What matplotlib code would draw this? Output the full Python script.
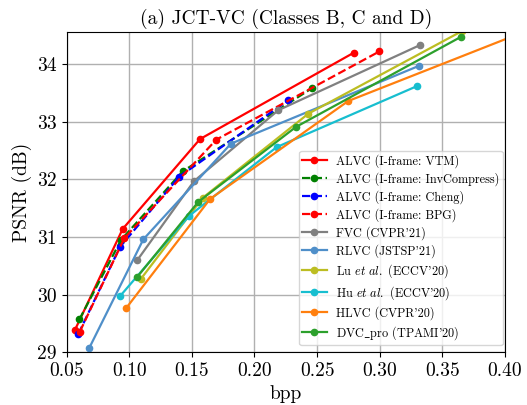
import matplotlib
matplotlib.use("Agg")
import matplotlib.pyplot as plt

plt.rcParams['font.family'] = ['cmr10', 'DejaVu Serif']
plt.rcParams['mathtext.fontset'] = 'cm'
plt.rcParams['axes.formatter.use_mathtext'] = True

labels = [
    "ALVC (I-frame: VTM)",
    "ALVC (I-frame: InvCompress)",
    "ALVC (I-frame: Cheng)",
    "ALVC (I-frame: BPG)",
    "FVC (CVPR'21)",
    "RLVC (JSTSP'21)",
    r"Lu $\mathit{et\ al.}$ (ECCV'20)",
    r"Hu $\mathit{et\ al.}$ (ECCV'20)",
    "HLVC (CVPR'20)",
    r"DVC$\_$pro (TPAMI'20)",
]

vtm_bpp = [0.0566, 0.0947, 0.1565, 0.2795]
vtm_psnr = [29.39, 31.14, 32.70, 34.20]
inv_bpp = [0.0601, 0.0934, 0.1427, 0.2457]
inv_psnr = [29.57, 30.95, 32.14, 33.58]
cheng_bpp = [0.0593, 0.0926, 0.1400, 0.2268]
cheng_psnr = [29.32, 30.83, 32.05, 33.37]
bpg_bpp = [0.0605, 0.0960, 0.1695, 0.2998]
bpg_psnr = [29.36, 30.98, 32.69, 34.22]
fvc_bpp = [0.1064, 0.1517, 0.2190, 0.3322]
fvc_psnr = [30.60, 31.97, 33.20, 34.33]
rlvc_bpp = [0.0681, 0.1112, 0.1812, 0.3314]
rlvc_psnr = [29.08, 30.96, 32.62, 33.97]
lu_bpp = [0.1091, 0.1586, 0.2430, 0.3655]
lu_psnr = [30.27, 31.68, 33.14, 34.57]
hu_bpp = [0.0928, 0.1479, 0.2177, 0.3300]
hu_psnr = [29.98, 31.37, 32.56, 33.62]
hlvc_bpp = [0.0976, 0.1645, 0.2749, 0.4200]
hlvc_psnr = [29.77, 31.66, 33.36, 34.60]
dvcp_bpp = [0.1064, 0.1551, 0.2331, 0.3647]
dvcp_psnr = [30.31, 31.61, 32.91, 34.47]

series = [
    (vtm_bpp, vtm_psnr, 'red', '-'),
    (inv_bpp, inv_psnr, 'green', '--'),
    (cheng_bpp, cheng_psnr, 'blue', '--'),
    (bpg_bpp, bpg_psnr, 'red', '--'),
    (fvc_bpp, fvc_psnr, 'grey', '-'),
    (rlvc_bpp, rlvc_psnr, '#4f8fc9', '-'),
    (lu_bpp, lu_psnr, '#bcbd22', '-'),
    (hu_bpp, hu_psnr, '#17becf', '-'),
    (hlvc_bpp, hlvc_psnr, '#ff7f0e', '-'),
    (dvcp_bpp, dvcp_psnr, '#2ca02c', '-'),
]

xticks = [0.05, 0.10, 0.15, 0.20, 0.25, 0.30, 0.35, 0.40]
yticks = [29, 30, 31, 32, 33, 34]

fig = plt.figure(figsize=(5.27, 4.05), dpi=100)
ax = fig.add_axes([0.1266, 0.130, 0.8314, 0.790])

for (x, y, c, ls), lab in zip(series, labels):
    ax.plot(x, y, color=c, linestyle=ls, marker='o', markersize=4.5, linewidth=1.6, label=lab)

ax.set_xlim(0.05, 0.40)
ax.set_ylim(29, 34.55)
ax.set_xticks(xticks)
ax.set_xticklabels([f"{t:.2f}" for t in xticks])
ax.set_yticks(yticks)
ax.set_yticklabels([str(t) for t in yticks])
ax.tick_params(labelsize=14)
ax.grid(True, color='#b0b0b0', linewidth=1)
ax.set_axisbelow(True)
ax.set_xlabel("bpp", fontsize=14)
ax.set_ylabel("PSNR (dB)", fontsize=14)
ax.set_title("(a) JCT-VC (Classes B, C and D)", fontsize=14)
ax.legend(loc='lower right', bbox_to_anchor=(0.995, 0.023), borderaxespad=0,
          fontsize=8.8, labelspacing=0.35, borderpad=0.25)

fig.savefig("out.png", dpi=100)
